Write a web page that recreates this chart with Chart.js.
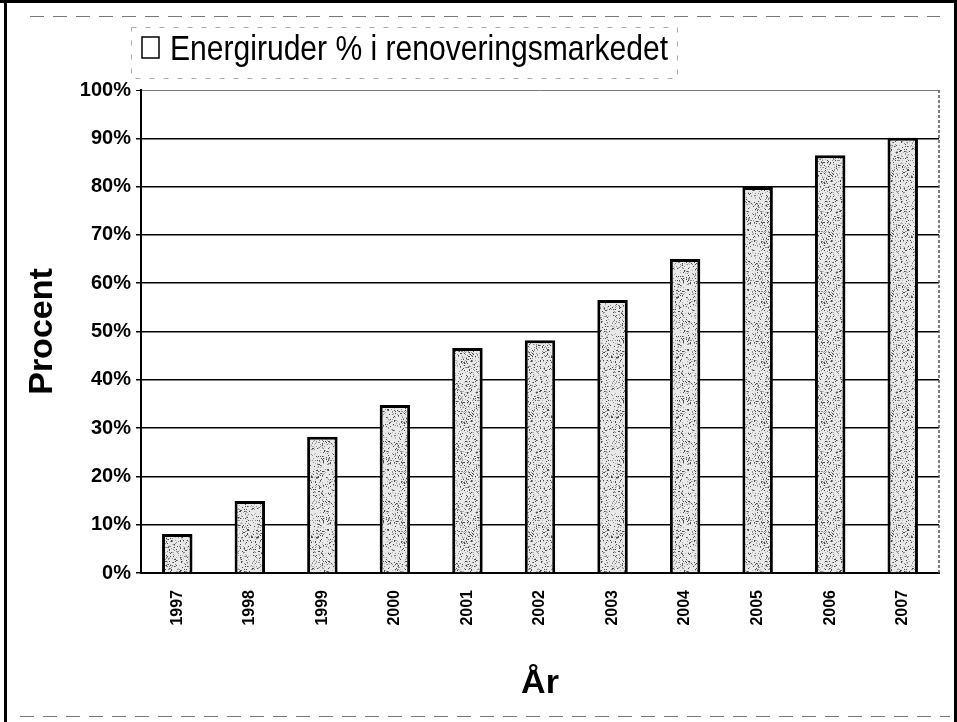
<!DOCTYPE html>
<html>
<head>
<meta charset="utf-8">
<script src="https://cdn.jsdelivr.net/npm/chart.js@4.4.1/dist/chart.umd.min.js"></script>
<style>
  html, body { margin: 0; padding: 0; background: #fff; }
  #wrap { width: 957px; height: 722px; position: relative; }
</style>
</head>
<body>
<div id="wrap"><canvas id="chart" width="957" height="722"></canvas></div>
<script>
const years = ["1997", "1998", "1999", "2000", "2001", "2002", "2003", "2004", "2005", "2006", "2007"];
const energiruder = [8.1, 14.9, 28.2, 34.8, 46.6, 48.2, 56.5, 65.0, 79.9, 86.5, 90.1];
const seriesLabel = "Energiruder % i renoveringsmarkedet";
const yTicks = [0, 10, 20, 30, 40, 50, 60, 70, 80, 90, 100];

const fontFamily = "'Liberation Sans', Arial, sans-serif";

// speckled grey fill like the scanned bars
function makeSpeckle() {
    const c = document.createElement("canvas");
    c.width = 60;
    c.height = 60;
    const g = c.getContext("2d");
    g.fillStyle = "#e9e9e9";
    g.fillRect(0, 0, 60, 60);
    let seed = 12345;
    const next = () => {
        seed = (seed * 1103515245 + 12345) % 2147483648;
        return seed / 2147483648;
    };
    for (let i = 0; i < 900; i++) {
        const x = Math.floor(next() * 60);
        const y = Math.floor(next() * 60);
        const r = next();
        g.fillStyle = r < 0.35 ? "#4a4a4a" : (r < 0.7 ? "#8c8c8c" : "#b4b4b4");
        g.fillRect(x, y, 1, 1);
    }
    return g.createPattern(c, "repeat");
}
const speckle = makeSpeckle();

const decor = {
    id: "decor",
    beforeDraw(chart) {
        const ctx = chart.ctx;
        ctx.save();
        ctx.fillStyle = "#fff";
        ctx.fillRect(0, 0, chart.width, chart.height);
        ctx.restore();
    },
    afterDatasetsDraw(chart) {
        const ctx = chart.ctx;
        const a = chart.chartArea;
        ctx.save();
        ctx.strokeStyle = "#555";
        ctx.lineWidth = 1.5;
        ctx.setLineDash([3, 2]);
        ctx.beginPath();
        ctx.moveTo(a.right, a.top);
        ctx.lineTo(a.right, a.bottom);
        ctx.stroke();
        ctx.restore();
    },
    afterDraw(chart) {
        const ctx = chart.ctx;
        ctx.save();
        // outer frame
        ctx.fillStyle = "#000";
        ctx.fillRect(0, 0, 957, 3);
        ctx.fillRect(4, 0, 3, 722);
        ctx.fillRect(954, 0, 3, 722);
        ctx.strokeStyle = "#777";
        ctx.lineWidth = 1;
        ctx.setLineDash([14, 9]);
        ctx.beginPath();
        ctx.moveTo(20, 716.5);
        ctx.lineTo(950, 716.5);
        ctx.moveTo(30, 16.5);
        ctx.lineTo(940, 16.5);
        ctx.stroke();
        // legend frame
        ctx.strokeStyle = "#aaa";
        ctx.setLineDash([5, 9]);
        ctx.strokeRect(131.5, 27.5, 546, 51);
        ctx.setLineDash([]);

        // legend key + text
        ctx.fillStyle = "#fff";
        ctx.fillRect(142, 37, 17, 21);
        ctx.strokeStyle = "#000";
        ctx.lineWidth = 1.5;
        ctx.strokeRect(142, 37, 17, 21);

        ctx.font = "35px " + fontFamily;
        ctx.fillStyle = "#000";
        ctx.textBaseline = "alphabetic";
        const w = ctx.measureText(seriesLabel).width;
        const sx = 498 / w;
        ctx.translate(170, 60);
        ctx.scale(sx, 1);
        ctx.fillText(seriesLabel, 0, 0);
        ctx.restore();
    }
};

const chart = new Chart(document.getElementById("chart"), {
    type: "bar",
    data: {
        labels: years,
        datasets: [{
            label: seriesLabel,
            data: energiruder,
            backgroundColor: speckle,
            borderColor: "#000",
            borderWidth: 3,
            barPercentage: 0.42,
            categoryPercentage: 1
        }]
    },
    options: {
        responsive: false,
        animation: false,
        devicePixelRatio: 1,
        layout: { padding: { left: 10, top: 90, right: 18, bottom: 10 } },
        plugins: {
            legend: { display: false },
            tooltip: { enabled: false }
        },
        scales: {
            x: {
                grid: { display: false, drawTicks: false },
                border: { color: "#000", width: 2 },
                ticks: {
                    minRotation: 90,
                    maxRotation: 90,
                    padding: 17,
                    color: "#000",
                    font: { family: fontFamily, size: 16, weight: "bold" }
                },
                title: {
                    display: true,
                    text: "År",
                    color: "#000",
                    font: { family: fontFamily, size: 34, weight: "bold" },
                    padding: { top: 0, bottom: 8 }
                },
                afterFit(scale) { scale.height = 139; }
            },
            y: {
                min: 0,
                max: 100,
                afterBuildTicks(scale) {
                    scale.ticks = yTicks.map(v => ({ value: v }));
                },
                ticks: {
                    callback: v => v + "%",
                    padding: 5,
                    color: "#000",
                    font: { family: fontFamily, size: 20, weight: "bold" }
                },
                grid: {
                    color: c => (c.tick && c.tick.value === 100) ? "#777" : "#000",
                    lineWidth: c => (c.tick && c.tick.value === 100) ? 1 : 1.5,
                    tickLength: 5,
                    tickColor: "#000"
                },
                border: { color: "#000", width: 2 },
                title: {
                    display: true,
                    text: "Procent",
                    color: "#000",
                    font: { family: fontFamily, size: 34, weight: "bold" },
                    padding: { top: 12, bottom: 0 }
                },
                afterFit(scale) { scale.width = 131; }
            }
        }
    },
    plugins: [decor]
});
</script>
</body>
</html>
